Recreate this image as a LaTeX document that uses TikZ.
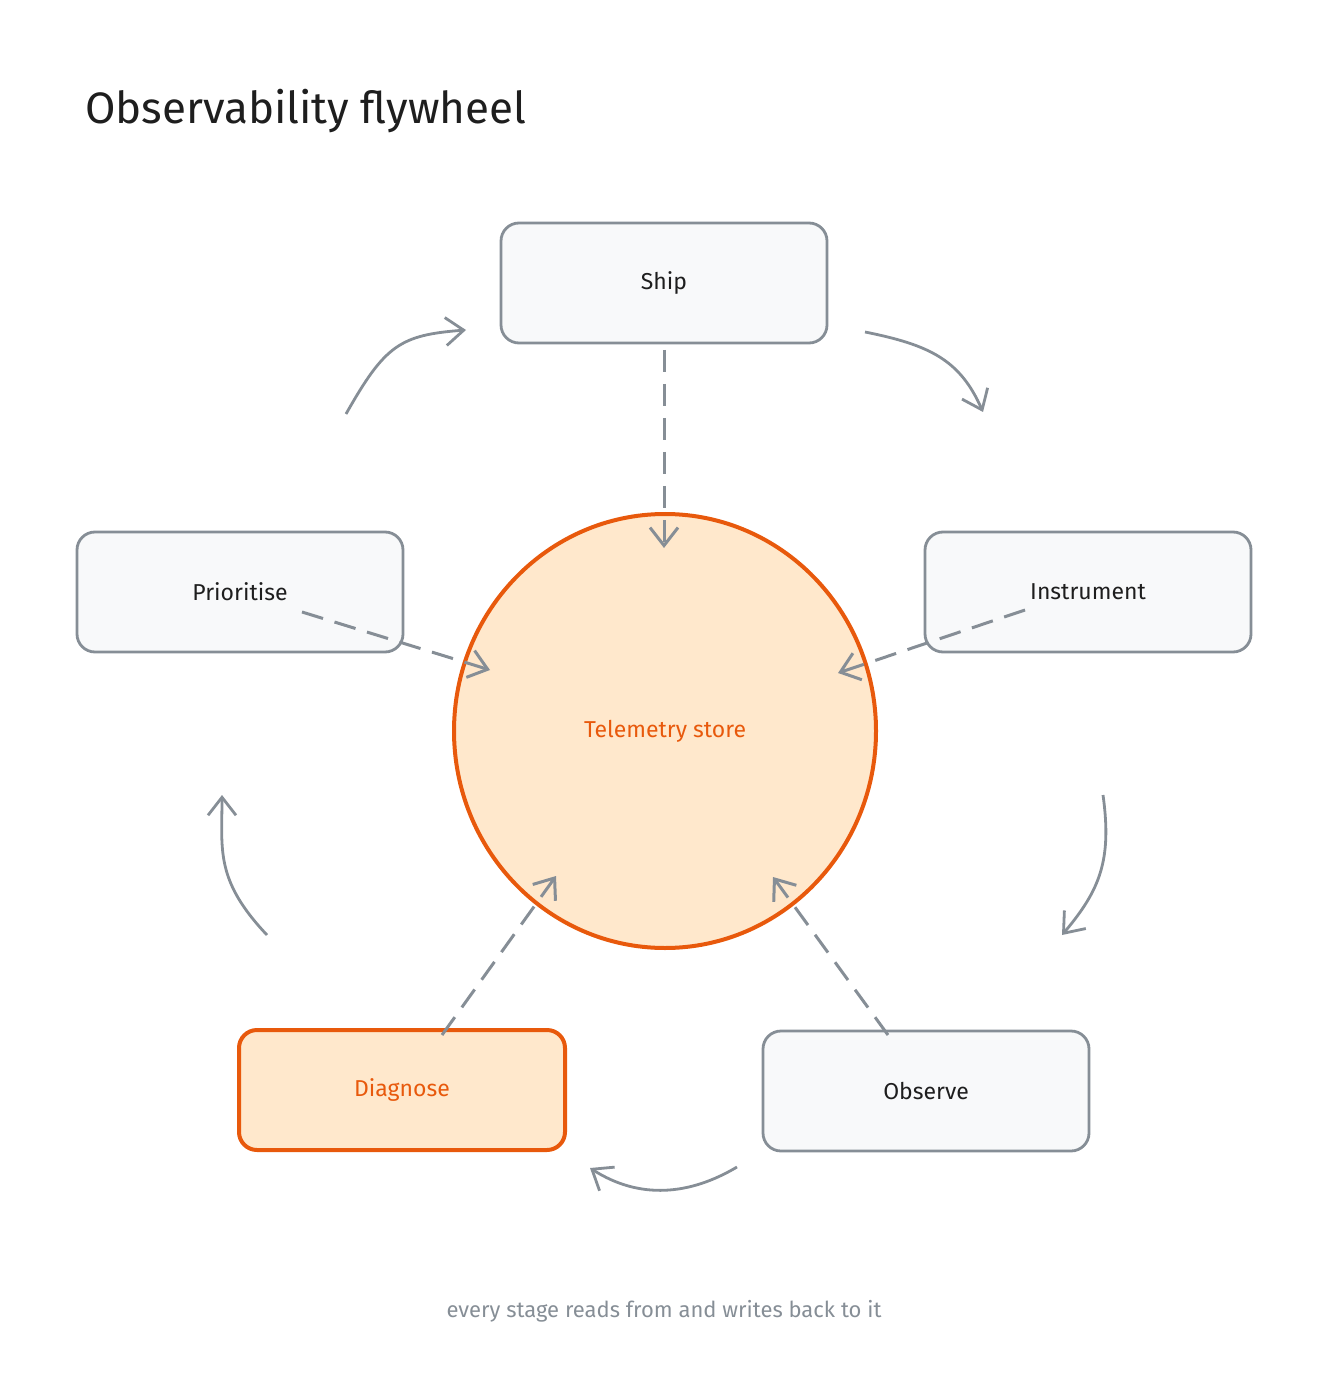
\documentclass[tikz,border=0pt]{standalone}
\usepackage{fontspec}
\setmainfont{Fira Sans}
\usetikzlibrary{arrows.meta,shapes.geometric}
\definecolor{gstroke}{HTML}{868E96}
\definecolor{gfill}{HTML}{F8F9FA}
\definecolor{ostroke}{HTML}{E8590C}
\definecolor{ofill}{HTML}{FFE8CC}
\definecolor{ink}{HTML}{1E1E1E}
\begin{document}
\begin{tikzpicture}[x=0.5pt,y=-0.5pt,
  box/.style={draw=gstroke,fill=gfill,line width=1.4pt,rounded corners=9pt,minimum width=163pt,minimum height=60pt,font=\fontsize{11.5}{13}\selectfont,text=ink},
  obox/.style={box,draw=ostroke,fill=ofill,text=ostroke,line width=2pt},
  dconn/.style={draw=gstroke,line width=1.5pt,dash pattern=on 11pt off 6pt,-{Straight Barb[length=9pt,width=14pt]}},
  cyc/.style={draw=gstroke,line width=1.4pt,-{Straight Barb[length=9pt,width=14pt]}}]
\useasboundingbox (0,0) rectangle (1328,1400);
\node[anchor=base west,font=\fontsize{22}{26}\selectfont,text=ink] (title) at (78,124) {Observability flywheel};
\node[draw=ostroke,fill=ofill,line width=2pt,ellipse,inner sep=0pt,minimum width=211pt,minimum height=217pt,text=ostroke,font=\fontsize{11.5}{13}\selectfont] (store) at (665,731) {Telemetry store};
\node[box] (ship) at (664,283) {Ship};
\node[box] (instr) at (1088,592) {Instrument};
\node[box] (prio) at (240,592) {Prioritise};
\node[obox] (diag) at (402,1090) {Diagnose};
\node[box] (obs) at (926,1091) {Observe};
\coordinate (s1) at (664,350); \coordinate (e1) at (664,548);
\coordinate (s2) at (1025,610); \coordinate (e2) at (838,673);
\coordinate (s3) at (302,612); \coordinate (e3) at (490,670);
\coordinate (s4) at (442,1035); \coordinate (e4) at (556,876);
\coordinate (s5) at (888,1035); \coordinate (e5) at (773,877);
\foreach \i in {1,...,5} \draw[dconn] (s\i) -- (e\i);
\coordinate (a1) at (865,332); \coordinate (b1) at (983,412);
\coordinate (a2) at (1103,795); \coordinate (b2) at (1062,935);
\coordinate (a3) at (737,1167); \coordinate (b3) at (590,1168);
\coordinate (a4) at (267,935); \coordinate (b4) at (222,795);
\coordinate (a5) at (346,414); \coordinate (b5) at (466,330);
\draw[cyc] (a1) .. controls (930,345) and (960,360) .. (b1);
\draw[cyc] (a2) .. controls (1112,860) and (1100,890) .. (b2);
\draw[cyc] (a3) .. controls (690,1195) and (640,1200) .. (b3);
\draw[cyc] (a4) .. controls (215,880) and (222,850) .. (b4);
\draw[cyc] (a5) .. controls (385,345) and (400,335) .. (b5);
\node[text=gstroke,font=\fontsize{11}{13}\selectfont] (cap) at (664,1311) {every stage reads from and writes back to it};
\end{tikzpicture}
\end{document}
